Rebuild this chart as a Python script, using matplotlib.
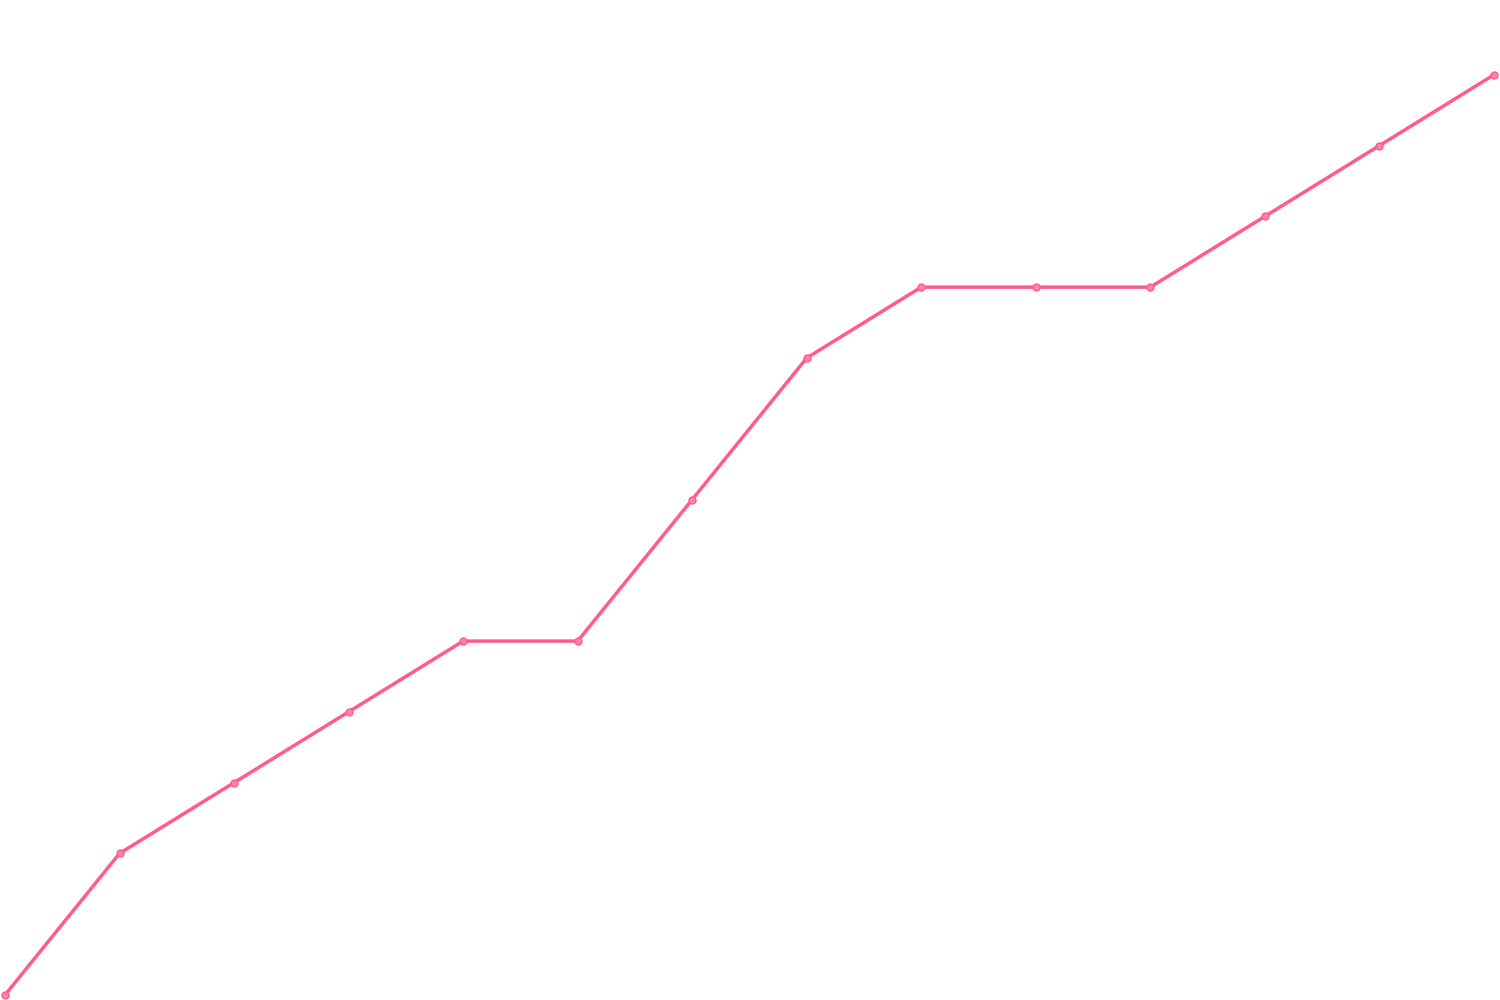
import matplotlib
matplotlib.use("Agg")
import matplotlib.pyplot as plt

x_values = list(range(14))
y_values = [0, 2, 3, 4, 5, 5, 7, 9, 10, 10, 10, 11, 12, 13]

fig = plt.figure(figsize=(15, 10), dpi=100)
ax = fig.add_axes([5 / 1500, 5 / 1000, 1489 / 1500, 991 / 1000])
ax.plot(x_values, y_values, color="#ff5c8a", linewidth=2.5,
        marker="o", markersize=5, markerfacecolor="#ff85a6",
        markeredgecolor="#ff5c8a", markeredgewidth=1, clip_on=False)
ax.set_xlim(0, 13)
ax.set_ylim(0, 14)
ax.axis("off")
fig.savefig("out.png", dpi=100, facecolor="white")
